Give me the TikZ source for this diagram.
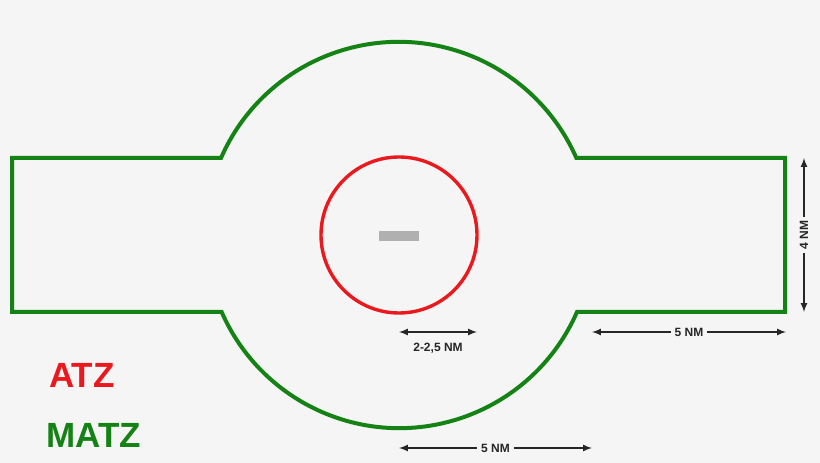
\documentclass[tikz,border=0pt]{standalone}
\usepackage{fontspec}
\setmainfont{Liberation Sans}
\definecolor{matzgreen}{RGB}{20,130,20}
\definecolor{atzred}{RGB}{235,25,30}
\definecolor{rwy}{RGB}{176,176,176}
\definecolor{bg}{RGB}{245,245,245}
\begin{document}
\begin{tikzpicture}[>=latex, x=1pt, y=1pt,
    dim/.style={<->, line width=2pt, black!85},
    lbl/.style={font=\bfseries\fontsize{12}{14}\selectfont, fill=bg, inner sep=4pt},
    big/.style={font=\bfseries\fontsize{35}{40}\selectfont, anchor=base west, inner sep=0pt}]
    \fill[bg](0,0)rectangle(820,463);
    \useasboundingbox(0,0)rectangle(820,463);
    \draw[matzgreen, line width=4pt, line join=miter](221,305) arc(156.34:23.66:194pt)--(785,305)--(785,151)--(577,151)
        arc(-23.66:-156.34:194pt)--(12,151)--(12,305)--cycle;
    \draw[atzred, line width=3.4pt](399,228) circle(78pt);
    \fill[rwy](379,222) rectangle (419,232);
    \coordinate (c) at (399,131);
    \coordinate (r) at (477,131);
    \coordinate (m) at (592,131);
    \coordinate (e) at (786,131);
    \coordinate (b1) at (399,15);
    \coordinate (b2) at (592,15);
    \coordinate (t) at (804,305);
    \coordinate (u) at (804,151);
    \draw[dim](c)--(r)node[midway, below=9pt, lbl, fill=none, inner sep=1pt]{2-2,5 NM};
    \foreach \a/\b in {m/e, b1/b2}
    {
        \draw[dim](\a)--(\b)node[midway, lbl]{5 NM};
    }
    \draw[dim](u)--(t)node[midway, lbl, rotate=90]{4 NM};
    \node[big, atzred] (atz) at (49,75) {ATZ};
    \node[big, matzgreen] (matz) at (46,15) {MATZ};
\end{tikzpicture}
\end{document}
